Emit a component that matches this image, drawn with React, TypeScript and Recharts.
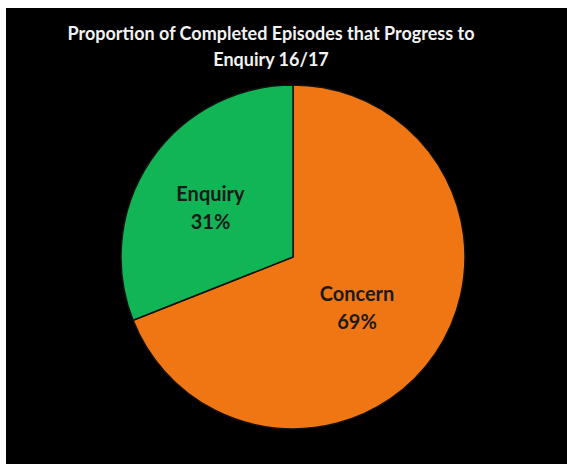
import React from 'react';
import { PieChart, Pie, Cell } from 'recharts';

const categories = ['Concern', 'Enquiry'];
const shares = [69, 31];
const sliceColors = ['#F07614', '#12B556'];

const titleLines = ['Proportion of Completed Episodes that Progress to', 'Enquiry 16/17'];

const data = categories.map((name, i) => ({ name, value: shares[i] }));

const RADIAN = Math.PI / 180;
// how far out along the mid angle each label sits (fraction of the radius)
const labelRadius = [0.45, 0.58];

// Two-line label (name + percent) placed inside each slice
const renderLabel = (props: any) => {
  const { cx, cy, midAngle, outerRadius, name, value, index } = props;
  const r = outerRadius * labelRadius[index];
  const x = cx + r * Math.cos(-midAngle * RADIAN);
  const y = cy + r * Math.sin(-midAngle * RADIAN);
  return (
    <text
      x={x}
      y={y}
      textAnchor="middle"
      fill="#1a1a1a"
      style={{ fontFamily: 'Lato, sans-serif', fontWeight: 700, fontSize: 20 }}
    >
      <tspan x={x} dy={0}>{name}</tspan>
      <tspan x={x} dy={28}>{`${value}%`}</tspan>
    </text>
  );
};

const App: React.FC = () => {
  return (
    <>
      {/* page is exactly the window size, so no scrollbar */}
      <style>{'body { margin: 0; overflow: hidden; }'}</style>
      <div
        style={{
          position: 'relative',
          width: 561,
          height: 456,
          marginTop: 8,
          marginLeft: 6,
          background: '#000',
        }}
      >
        <div
          style={{
            position: 'absolute',
            top: 12,
            left: 0,
            width: 530,
            textAlign: 'center',
            color: '#f2f2f2',
            fontFamily: 'Lato, sans-serif',
            fontWeight: 700,
            fontSize: 18,
            lineHeight: '26px',
          }}
        >
          {titleLines.map((line) => (
            <div key={line}>{line}</div>
          ))}
        </div>
        <PieChart width={561} height={456} style={{ position: 'absolute', top: 0, left: 0 }}>
          <Pie
            data={data}
            dataKey="value"
            nameKey="name"
            cx={282}
            cy={244}
            outerRadius={172}
            startAngle={90}
            endAngle={-270}
            stroke="#111"
            strokeWidth={1.5}
            label={renderLabel}
            labelLine={false}
            isAnimationActive={false}
          >
            {data.map((d, i) => (
              <Cell key={d.name} fill={sliceColors[i]} />
            ))}
          </Pie>
        </PieChart>
      </div>
    </>
  );
};

export default App;
